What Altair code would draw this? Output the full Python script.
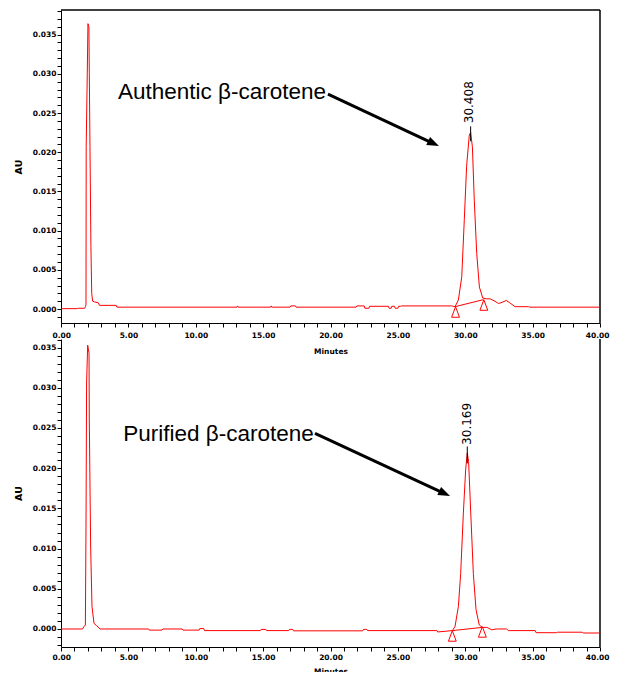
import altair as alt
import pandas as pd

# ---------------- data ----------------
# Upper chromatogram (authentic beta-carotene)
top_time = [0.0, 1.2, 1.3, 1.75, 1.82, 1.855, 1.87, 1.95, 2.0, 2.07, 2.1, 2.15, 2.22, 2.28, 2.35,
            2.5, 2.77, 2.85, 4.1, 4.15, 13.05, 13.1, 13.15, 15.55, 15.6, 15.65, 17.0, 17.05, 17.4,
            17.45, 21.9, 21.95, 22.5, 22.55, 22.85, 22.9, 24.3, 24.35, 24.5, 24.55, 24.75, 24.8,
            25.0, 25.05, 25.2, 25.25, 29.0, 29.24, 29.49, 29.74, 29.93, 30.1, 30.3, 30.4, 30.53,
            30.67, 30.85, 31.05, 31.3, 31.6, 31.85, 32.2, 32.47, 32.8, 33.04, 33.3, 33.7, 34.7,
            34.8, 40.0]
top_au = [0.00005, 0.00005, 0.0001, 0.0001, 0.0003, 0.0006, 0.0207, 0.0300, 0.0364, 0.0360,
          0.0300, 0.0207, 0.0080, 0.0020, 0.0010, 0.0009, 0.0008, 0.00047, 0.00047, 0.00024,
          0.00024, 0.0004, 0.00024, 0.00024, 0.0004, 0.00024, 0.00024, 0.0004, 0.0004, 0.00024,
          0.00024, 0.0004, 0.0004, 0.0001, 0.0001, 0.00035, 0.00035, 0.0001, 0.0001, 0.00035,
          0.00035, 0.0001, 0.0001, 0.00035, 0.00035, 0.0004, 0.0004, 0.0003, 0.00115, 0.0041,
          0.0114, 0.0182, 0.0222, 0.0225, 0.0207, 0.0139, 0.0071, 0.0028, 0.0014, 0.0013, 0.0013,
          0.0010, 0.0007, 0.0009, 0.0011, 0.0008, 0.0003, 0.0003, 0.00024, 0.00024]

# Lower chromatogram (purified beta-carotene)
bot_time = [0.0, 1.6, 1.71, 1.81, 1.855, 1.9, 1.98, 2.08, 2.1, 2.2, 2.3, 2.45, 2.65, 2.9, 6.5,
            6.55, 7.5, 7.55, 9.0, 9.05, 10.25, 10.3, 10.6, 10.65, 14.8, 14.85, 15.2, 15.25, 16.9,
            16.95, 17.2, 17.25, 22.4, 22.45, 22.7, 22.75, 27.9, 27.95, 29.04, 29.24, 29.49, 29.66,
            29.86, 30.03, 30.15, 30.25, 30.4, 30.6, 30.8, 31.04, 31.27, 31.6, 31.97, 32.3, 33.07,
            33.2, 35.2, 35.25, 36.8, 36.85, 38.7, 38.75, 40.0]
bot_au = [0.0, 0.0, 0.0003, 0.0005, 0.0127, 0.0306, 0.0353, 0.0343, 0.0260, 0.0102, 0.0028,
          0.0007, 0.0004, 0.0, 0.0, -0.00014, -0.00014, 0.0, 0.0, -0.00014, -0.00014, 0.00005,
          0.00005, -0.0002, -0.0002, -0.00005, -0.00005, -0.0002, -0.0002, -0.00005, -0.00005,
          -0.00023, -0.00023, -0.00005, -0.00005, -0.0002, -0.0002, -0.00037, -0.0002, 0.0003,
          0.0028, 0.0069, 0.0144, 0.0198, 0.0219, 0.0208, 0.0148, 0.0069, 0.0024, 0.0005, 0.0002,
          0.0002, -0.0001, 0.0, 0.0, -0.0002, -0.0002, -0.00046, -0.00046, -0.0004, -0.0004,
          -0.0005, -0.0005]

# integration baselines and start/end markers
top_base_time = [29.24, 31.35]
top_base_au = [0.0003, 0.0012]
bot_base_time = [29.04, 31.27]
bot_base_au = [-0.0002, 0.0002]
top_marker_time = [29.28, 31.38]
top_marker_au = [-0.00038, 0.00051]
bot_marker_time = [29.04, 31.27]
bot_marker_au = [-0.00087, -0.00037]

# retention-time labels
top_peak_label = "30.408"
top_peak_time = 30.4
top_peak_tick = [0.0214, 0.0233]
top_label_pos = [30.28, 0.0237]
bot_peak_label = "30.169"
bot_peak_time = 30.15
bot_peak_tick = [0.0206, 0.0227]
bot_label_pos = [30.11, 0.0229]

# annotations and arrows
top_note = "Authentic β-carotene"
top_note_pos = [4.23, 0.02679]
top_arrow = [19.81, 0.02742, 27.65, 0.02111]
bot_note = "Purified β-carotene"
bot_note_pos = [4.62, 0.02335]
bot_arrow = [18.85, 0.02434, 28.47, 0.01685]

# axes
x_ticks = list(range(0, 41))
top_y_ticks = [round(i * 0.001, 3) for i in range(-1, 39)]
bot_y_ticks = [round(i * 0.001, 3) for i in range(-2, 37)]
top_y_domain = [-0.00178, 0.03814]
bot_y_domain = [-0.00224, 0.03607]
x_domain = [0, 40]

# ---------------- chart ----------------
RED = "#ff0000"
TRI = "M0,-1L-0.75,1L0.75,1Z"
NOTE_FONT = "Liberation Sans"
W = 539


def panel(t, v, bt, bv, mt, mv, pk_t, pk_tick, lab_pos, lab, note, note_pos, arrow,
          ydom, yticks, h, top_frame, x_lab_pad, x_title_pad):
    X = alt.X("t:Q", scale=alt.Scale(domain=x_domain, nice=False, zero=False),
              axis=alt.Axis(values=x_ticks, title="Minutes",
                            labelExpr="datum.value % 5 == 0 ? format(datum.value, '.2f') : ''",
                            tickSize=4, labelPadding=x_lab_pad, titlePadding=x_title_pad,
                            labelOverlap=False, labelFlush=True, labelFlushOffset=9))
    Y = alt.Y("v:Q", scale=alt.Scale(domain=ydom, nice=False, zero=False),
              axis=alt.Axis(values=yticks, title="AU",
                            labelExpr="round(datum.value * 1000) % 5 == 0 ? format(datum.value, '.3f') : ''",
                            tickSize=4, labelPadding=1, titlePadding=9,
                            labelOverlap=False, labelFlush=False))

    trace = alt.Chart(pd.DataFrame({"t": t, "v": v})).mark_line(
        color=RED, strokeWidth=1).encode(x=X, y=Y)
    base = alt.Chart(pd.DataFrame({"t": bt, "v": bv})).mark_line(
        color=RED, strokeWidth=1).encode(x=X, y=Y)
    marks = alt.Chart(pd.DataFrame({"t": mt, "v": mv})).mark_point(
        shape=TRI, size=110, filled=False, color=RED, strokeWidth=1, opacity=1).encode(x=X, y=Y)
    tick = alt.Chart(pd.DataFrame({"t": [pk_t], "v": [pk_tick[0]], "v2": [pk_tick[1]]})).mark_rule(
        color="black", strokeWidth=1).encode(x=X, y=Y, y2="v2:Q")
    label = alt.Chart(pd.DataFrame({"t": [lab_pos[0]], "v": [lab_pos[1]], "s": [lab]})).mark_text(
        angle=270, align="left", baseline="middle", font="DejaVu Sans", fontSize=12,
        color="black").encode(x=X, y=Y, text="s:N")
    note_m = alt.Chart(pd.DataFrame({"t": [note_pos[0]], "v": [note_pos[1]], "s": [note]})).mark_text(
        align="left", baseline="alphabetic", font=NOTE_FONT, fontSize=22.5,
        color="black").encode(x=X, y=Y, text="s:N")
    arrow_line = alt.Chart(pd.DataFrame({"t": [arrow[0]], "v": [arrow[1]],
                                         "t2": [arrow[2]], "v2": [arrow[3]]})).mark_rule(
        color="black", strokeWidth=3).encode(x=X, y=Y, x2="t2:Q", y2="v2:Q")
    arrow_head = alt.Chart(pd.DataFrame({"t": [arrow[2]], "v": [arrow[3]]})).mark_point(
        shape=TRI, size=144, filled=True, color="black", angle=115, opacity=1).encode(x=X, y=Y)
    right_frame = alt.Chart(pd.DataFrame({"t": [x_domain[1]]})).mark_rule(
        color="black", strokeWidth=1.5).encode(x=X)
    layers = [right_frame]
    if top_frame:
        layers.append(alt.Chart(pd.DataFrame({"v": [ydom[1]]})).mark_rule(
            color="black", strokeWidth=1.5).encode(y=Y))
    layers += [base, trace, marks, tick, label, note_m, arrow_line, arrow_head]
    return alt.layer(*layers).properties(width=W, height=h)


top = panel(top_time, top_au, top_base_time, top_base_au, top_marker_time, top_marker_au,
            top_peak_time, top_peak_tick, top_label_pos, top_peak_label, top_note, top_note_pos,
            top_arrow, top_y_domain, top_y_ticks, 313, True, 4, 9)
bot = panel(bot_time, bot_au, bot_base_time, bot_base_au, bot_marker_time, bot_marker_au,
            bot_peak_time, bot_peak_tick, bot_label_pos, bot_peak_label, bot_note, bot_note_pos,
            bot_arrow, bot_y_domain, bot_y_ticks, 308, False, 2, 7)

chart = alt.vconcat(top, bot, spacing=16, bounds="flush").properties(
    autosize=alt.AutoSizeParams(type="none"),
    padding={"left": 53, "top": 2, "right": 10, "bottom": 662},
    background="white",
).configure_view(stroke=None).configure_axis(
    grid=False,
    domainColor="black",
    domainWidth=1,
    tickColor="black",
    labelColor="black",
    labelFont="DejaVu Sans",
    labelFontWeight="bold",
    labelFontSize=7.5,
    titleColor="black",
    titleFont="DejaVu Sans",
    titleFontWeight="bold",
).configure_axisX(titleFontSize=7.5).configure_axisY(titleFontSize=9.5)

chart.save("out.html", embed_options={"renderer": "svg", "actions": False})
